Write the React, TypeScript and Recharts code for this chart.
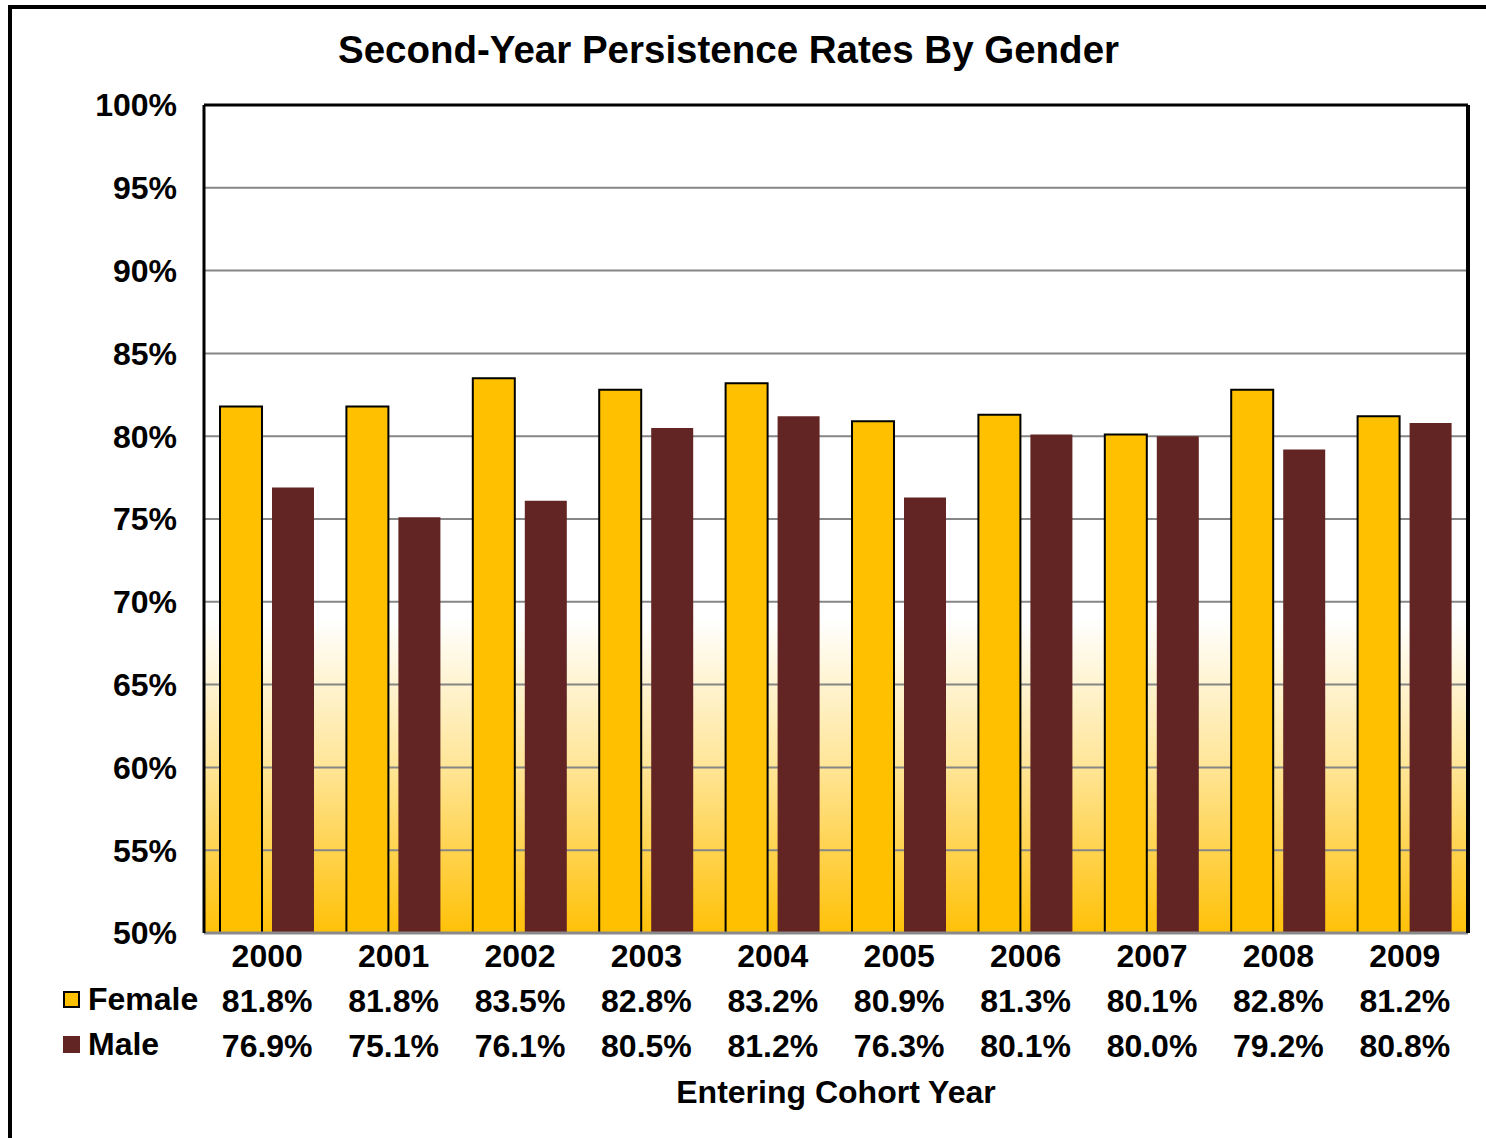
import React from 'react';
import { BarChart, Bar, XAxis, YAxis, CartesianGrid, Legend } from 'recharts';

const years = ['2000', '2001', '2002', '2003', '2004', '2005', '2006', '2007', '2008', '2009'];
const femaleRates = [81.8, 81.8, 83.5, 82.8, 83.2, 80.9, 81.3, 80.1, 82.8, 81.2];
const maleRates = [76.9, 75.1, 76.1, 80.5, 81.2, 76.3, 80.1, 80.0, 79.2, 80.8];
const yTicks = [50, 55, 60, 65, 70, 75, 80, 85, 90, 95, 100];

const FONT = '"Liberation Sans", Arial, sans-serif';
const FEMALE = '#FFC000';
const MALE = '#632523';

const data = years.map((year, i) => ({
  year,
  female: femaleRates[i],
  male: maleRates[i],
}));

function TableTick(props: any) {
  const { x, y, index } = props;
  const row = data[index];
  if (!row) return null;
  const style = { fontFamily: FONT, fontWeight: 700, fontSize: 32, fill: '#000' };
  return (
    <g>
      <text x={x} y={y + 26} textAnchor="middle" {...style}>{row.year}</text>
      <text x={x} y={y + 71} textAnchor="middle" {...style}>{row.female.toFixed(1)}%</text>
      <text x={x} y={y + 116} textAnchor="middle" {...style}>{row.male.toFixed(1)}%</text>
    </g>
  );
}

function LegendRows(props: any) {
  const items = props.payload || [];
  return (
    <div style={{ fontFamily: FONT, fontWeight: 700, fontSize: 32, color: '#000', textAlign: 'left' }}>
      {items.map((item: any) => (
        <div key={item.value} style={{ display: 'flex', alignItems: 'center', height: 45 }}>
          <span
            style={{
              display: 'inline-block',
              boxSizing: 'border-box',
              width: 17,
              height: 17,
              background: item.value === 'Female' ? FEMALE : MALE,
              border: item.value === 'Female' ? '2px solid #000' : 'none',
              marginRight: 8,
            }}
          />
          <span>{item.value}</span>
        </div>
      ))}
    </div>
  );
}

export default function App() {
  return (
    <div style={{ position: 'absolute', left: 0, top: 0, width: 1486, height: 1138, overflow: 'hidden', background: '#fff' }}>
      <svg width={0} height={0} style={{ position: 'absolute' }}>
        <defs>
          <linearGradient id="plotBg" x1="0" y1="0" x2="0" y2="1">
            <stop offset="0" stopColor="#FFFFFF" />
            <stop offset="0.62" stopColor="#FFFFFF" />
            <stop offset="0.8" stopColor="#FFE596" />
            <stop offset="1" stopColor="#FFC108" />
          </linearGradient>
        </defs>
      </svg>
      <div
        style={{
          position: 'absolute',
          left: 8,
          top: 5,
          width: 1500,
          height: 1150,
          borderLeft: '4px solid #000',
          borderTop: '4px solid #000',
        }}
      />
      <div
        style={{
          position: 'absolute',
          top: 28,
          left: 330,
          width: 797,
          textAlign: 'center',
          fontFamily: FONT,
          fontWeight: 700,
          fontSize: 38.5,
          lineHeight: '44px',
          whiteSpace: 'nowrap',
        }}
      >
        Second-Year Persistence Rates By Gender
      </div>
      <div
        style={{
          position: 'absolute',
          top: 1073,
          left: 204,
          width: 1264,
          textAlign: 'center',
          fontFamily: FONT,
          fontWeight: 700,
          fontSize: 32,
          lineHeight: '38px',
        }}
      >
        Entering Cohort Year
      </div>
      <div style={{ position: 'absolute', left: 0, top: 0 }}>
        <BarChart
          width={1486}
          height={1138}
          data={data}
          margin={{ top: 104, right: 17, left: 124, bottom: 55 }}
          barCategoryGap={16}
          barGap={10}
        >
          <CartesianGrid vertical={false} stroke="#868686" strokeWidth={2} fill="url(#plotBg)" fillOpacity={1} />
          <XAxis
            dataKey="year"
            height={150}
            interval={0}
            tickLine={false}
            axisLine={{ stroke: '#8a8a8a', strokeWidth: 3 }}
            tick={<TableTick />}
          />
          <XAxis
            xAxisId="top"
            orientation="top"
            dataKey="year"
            height={1}
            tick={false}
            tickLine={false}
            axisLine={{ stroke: '#000', strokeWidth: 3 }}
          />
          <YAxis
            type="number"
            domain={[50, 100]}
            ticks={yTicks}
            allowDataOverflow
            width={80}
            tickSize={0}
            tickMargin={27}
            axisLine={{ stroke: '#000', strokeWidth: 3 }}
            tickFormatter={(v: number) => `${v}%`}
            tick={{ fontFamily: FONT, fontWeight: 700, fontSize: 32, fill: '#000' }}
          />
          <YAxis
            yAxisId="right"
            orientation="right"
            domain={[50, 100]}
            width={1}
            tick={false}
            tickLine={false}
            axisLine={{ stroke: '#000', strokeWidth: 4 }}
          />
          <Legend
            layout="horizontal"
            verticalAlign="middle"
            align="center"
            content={<LegendRows />}
            wrapperStyle={{ left: 63, top: 977, width: 160 }}
          />
          <Bar dataKey="female" name="Female" fill={FEMALE} stroke="#000" strokeWidth={2} isAnimationActive={false} />
          <Bar dataKey="male" name="Male" fill={MALE} isAnimationActive={false} />
        </BarChart>
      </div>
    </div>
  );
}
